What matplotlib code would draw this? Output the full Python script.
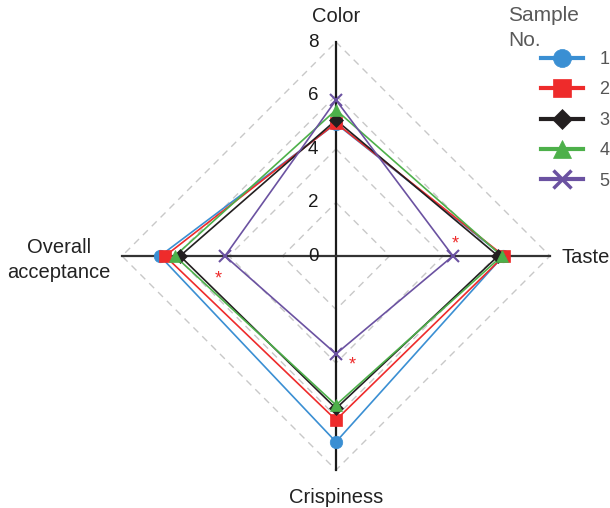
import numpy as np
import matplotlib
matplotlib.use("Agg")
import matplotlib.pyplot as plt
from matplotlib.lines import Line2D

plt.rcParams['font.family'] = ['Liberation Sans', 'DejaVu Sans']

# Sensory attributes (clockwise from top)
attributes = ["Color", "Taste", "Crispiness", "Overall\nacceptance"]
samples = ["1", "2", "3", "4", "5"]

# Mean scores per sample, in attribute order
scores_1 = [4.95, 6.25, 6.95, 6.58]
scores_2 = [4.97, 6.28, 6.13, 6.39]
scores_3 = [5.08, 6.06, 5.70, 5.83]
scores_4 = [5.46, 6.20, 5.57, 6.02]
scores_5 = [5.83, 4.37, 3.66, 4.15]

tick_values = [0, 2, 4, 6, 8]
r_max = 8

colors = ["#3A8FD3", "#EE2B2B", "#231F20", "#4DB04A", "#6B52A1"]
markers = ["o", "s", "D", "^", "x"]
msizes = [9, 9, 7, 9, 9]

all_scores = [scores_1, scores_2, scores_3, scores_4, scores_5]

fig = plt.figure(figsize=(6.1, 5.08), dpi=100)
ax = fig.add_axes([122 / 610, 1 - 470 / 508, 428 / 610, 428 / 508], projection="polar")
ax.set_theta_zero_location("N")
ax.set_theta_direction(-1)
ax.set_ylim(0, r_max)
ax.grid(False)
ax.spines["polar"].set_visible(False)
ax.set_xticks([])
ax.set_yticks([])
ax.patch.set_alpha(0)

angles = np.arange(len(attributes)) * 2 * np.pi / len(attributes)
closed = np.append(angles, angles[0])

# Dashed diamond grid
for r in tick_values[1:]:
    ax.plot(closed, [r] * len(closed), color="#C8C8C8", lw=1.0,
            dashes=(5, 4), zorder=1, clip_on=False)

# Axis spokes
for i, a in enumerate(angles):
    ax.plot([a, a], [0, r_max], color="#1a1a1a" if i % 2 == 0 else "#333333",
            lw=1.6, zorder=2, clip_on=False)

# Sample profiles
for vals, c, m, ms, lab in zip(all_scores, colors, markers, msizes, samples):
    v = np.append(vals, vals[0])
    ax.plot(closed, v, color=c, lw=1.2, zorder=3, clip_on=False)
    ax.plot(angles, vals, linestyle="none", marker=m, markersize=ms,
            color=c, markeredgewidth=1.5 if m == "x" else 0.5, zorder=4, clip_on=False)

# Radial tick labels along the top spoke
for t in tick_values:
    ax.annotate(str(t), xy=(0, t), xytext=(-23, 0), textcoords="offset pixels",
                ha="center", va="center", fontsize=13.5, color="#1a1a1a")

# Attribute labels
lab_kw = dict(textcoords="offset pixels", fontsize=14.5, color="#222222",
              annotation_clip=False)
ax.annotate(attributes[0], xy=(angles[0], r_max), xytext=(0, 20),
            ha="center", va="baseline", **lab_kw)
ax.annotate(attributes[1], xy=(angles[1], r_max), xytext=(12, -7),
            ha="left", va="baseline", **lab_kw)
ax.annotate(attributes[2], xy=(angles[2], r_max), xytext=(0, -33),
            ha="center", va="baseline", **lab_kw)
ax.annotate(attributes[3], xy=(angles[3], r_max), xytext=(-63, -4),
            ha="center", va="center", linespacing=1.45, **lab_kw)

# Significance markers next to sample 5
star_offsets = [(2, 12), (-7, -23), (16, -11)]
for idx, off in zip([1, 3, 2], star_offsets):
    ax.annotate("*", xy=(angles[idx], all_scores[4][idx]), xytext=off,
                textcoords="offset pixels", ha="center", va="center",
                fontsize=13, color="#EE2B2B")

# Legend
handles = [Line2D([], [], color=c, lw=3, marker=m, markersize=13 if m != "D" else 10,
                  markeredgewidth=2.5 if m == "x" else 0.5)
           for c, m in zip(colors, markers)]
fig.legend(handles, samples, loc="upper left", bbox_to_anchor=(541 / 610, 1 - 51 / 508),
           frameon=False, fontsize=13, handlelength=2.3, handletextpad=0.92,
           labelspacing=0.745, borderpad=0, borderaxespad=0, labelcolor="#555555")
fig.text(508 / 610, 1 - 6 / 508, "Sample\nNo.", ha="left", va="top", fontsize=15,
         color="#595959", linespacing=1.4)

fig.savefig("out.png", dpi=100)
